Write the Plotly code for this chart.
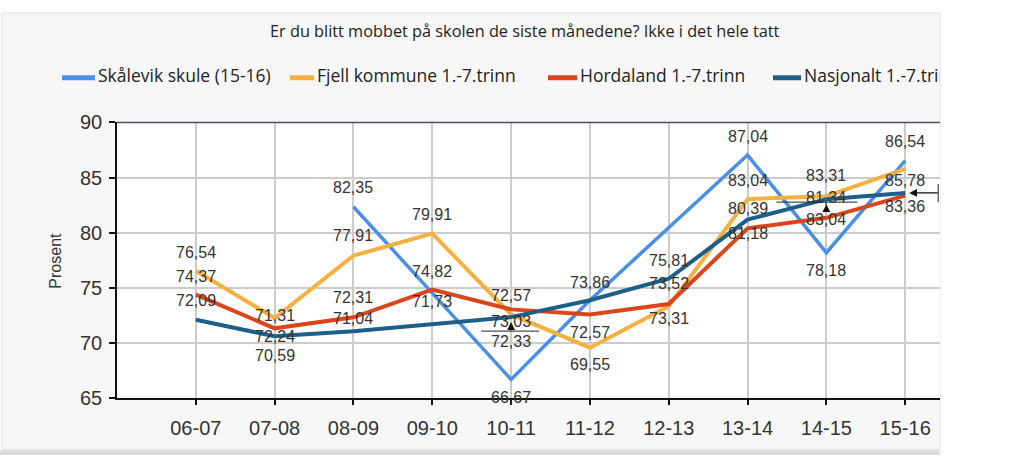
import plotly.graph_objects as go

# ---------------- data ----------------
categories = ["06-07", "07-08", "08-09", "09-10", "10-11", "11-12", "12-13", "13-14", "14-15", "15-16"]
skalevik = [None, None, 82.35, None, 66.67, 73.86, None, 87.04, 78.18, 86.54]
fjell = [76.54, 72.24, 77.91, 79.91, 72.57, 69.55, 73.31, 83.04, 83.31, 85.78]
hordaland = [74.37, 71.31, 72.31, 74.82, 73.03, 72.57, 73.52, 80.39, 81.34, 83.36]
nasjonalt = [72.09, 70.59, 71.04, 71.73, 72.33, 73.86, 75.81, 81.18, 83.04, 83.60]
series_names = ["Skålevik skule (15-16)", "Fjell kommune 1.-7.trinn",
                "Hordaland 1.-7.trinn", "Nasjonalt 1.-7.trinn"]
y_ticks = [65, 70, 75, 80, 85, 90]
title_text = "Er du blitt mobbet på skolen de siste månedene? Ikke i det hele tatt"
y_title = "Prosent"

# ---------------- style ----------------
colors = ["#4a8fe4", "#f5b042", "#da451c", "#1d5f88"]
widths = [3.5, 4, 4, 4]
# label offset in px (+ above / - below), None = label not shown (clipped in original)
label_offsets = [
    [0, 0, 19, 0, -18, 18, 0, 19, -18, 19],
    [18, -18, 20, 19, 19, -17, -12, 19, 21, -12],
    [18, 13, 20, 18, -12, -18, 20, 20, 20, -11],
    [19, -19, 13, 22, -24, None, 18, -14, -20, None],
]
W, H = 1024, 466
PL, PR, PT, PB = 117, 940, 117, 406     # plot area pixels
STEP = 867 / 11                          # category spacing px
legend_swatch = [(62, 95), (290, 314), (548, 577), (773, 801)]

series = [skalevik, fjell, hordaland, nasjonalt]

fig = go.Figure()

for name, vals, col, w in zip(series_names, series, colors, widths):
    fig.add_trace(go.Scatter(
        x=categories, y=vals, mode="lines", name=name,
        line=dict(color=col, width=w), connectgaps=True,
        showlegend=False, hoverinfo="skip"))

annotations = []
for vals, offs in zip(series, label_offsets):
    for c, v, o in zip(categories, vals, offs):
        if v is None or o is None or o == 0:
            continue
        annotations.append(dict(
            x=c, y=v, xref="x", yref="y", yshift=o, showarrow=False,
            text=f"{v:.2f}".replace(".", ","),
            font=dict(family="Liberation Sans, Arial", size=16, color="#333333")))

# callout arrows (as in original smart-label callouts) on Nasjonalt labels
callouts = [  # (category index, yshift, ax, ay)
    (4, -5, 0, 9),
    (8, -5, 0, 7),
    (9, 0, 30, 0),
]
for idx, ys, ax, ay in callouts:
    xs = 4 if ax else 0
    annotations.append(dict(
        x=categories[idx], y=nasjonalt[idx], xref="x", yref="y", yshift=ys, xshift=xs,
        text="", showarrow=True, arrowhead=2, arrowsize=1.3, arrowwidth=1.2,
        arrowcolor="#111111", ax=ax, ay=ay, standoff=0))

shapes = []
# panel background and white plot area
shapes.append(dict(type="rect", xref="paper", yref="paper", layer="below",
                   x0=2 / W, x1=940 / W, y0=(H - 460) / H, y1=(H - 2) / H,
                   fillcolor="#f7f7f7", line=dict(color="#e2e2e2", width=1)))
shapes.append(dict(type="rect", xref="paper", yref="paper", layer="below",
                   x0=PL / W, x1=PR / W, y0=(H - PB) / H, y1=(H - PT) / H,
                   fillcolor="#ffffff", line=dict(width=0)))
# bottom gray bar of the frame
shapes.append(dict(type="rect", xref="paper", yref="paper", layer="below",
                   x0=0, x1=940 / W, y0=0, y1=(H - 461) / H,
                   fillcolor="#dcdcdc", line=dict(width=0)))
# top border of plot area
shapes.append(dict(type="line", xref="paper", yref="paper", layer="above",
                   x0=PL / W, x1=PR / W, y0=(H - PT) / H, y1=(H - PT) / H,
                   line=dict(color="#44506a", width=1.5)))
# callout underlines
shapes.append(dict(type="line", xref="x", yref="y", xsizemode="pixel", ysizemode="pixel",
                   xanchor=4, yanchor=nasjonalt[4], x0=-30, x1=28, y0=-14, y1=-14,
                   line=dict(color="#222222", width=1)))
shapes.append(dict(type="line", xref="x", yref="y", xsizemode="pixel", ysizemode="pixel",
                   xanchor=8, yanchor=nasjonalt[8], x0=-50, x1=31, y0=-3, y1=-3,
                   line=dict(color="#222222", width=1)))
shapes.append(dict(type="line", xref="x", yref="y", xsizemode="pixel", ysizemode="pixel",
                   xanchor=9, yanchor=nasjonalt[9], x0=33, x1=33, y0=-9, y1=9,
                   line=dict(color="#222222", width=1)))

# title and y-axis title
annotations.append(dict(x=525 / W, y=(H - 21) / H, xref="paper", yref="paper",
                        text=title_text, showarrow=False, xanchor="center", yanchor="middle",
                        font=dict(family="Open Sans", size=16.3, color="#222222")))
annotations.append(dict(x=56 / W, y=(H - 262) / H, xref="paper", yref="paper",
                        text=y_title, showarrow=False, textangle=-90,
                        xanchor="center", yanchor="middle",
                        font=dict(family="Liberation Sans, Arial", size=16, color="#333333")))

# legend drawn in a helper subplot so that it is clipped like the original
for name, col, (s0, s1) in zip(series_names, colors, legend_swatch):
    fig.add_trace(go.Scatter(x=[s0, s1], y=[0.5, 0.5], mode="lines", xaxis="x2", yaxis="y2",
                             line=dict(color=col, width=5), showlegend=False, hoverinfo="skip"))
fig.add_trace(go.Scatter(
    x=[s1 + 3 for s0, s1 in legend_swatch], y=[0.5] * 4, mode="text",
    text=series_names, textposition="middle right", xaxis="x2", yaxis="y2",
    textfont=dict(family="Open Sans", size=17.5, color="#222222"),
    cliponaxis=True, showlegend=False, hoverinfo="skip"))

fig.update_layout(
    width=W, height=H,
    margin=dict(l=0, r=0, t=0, b=0),
    paper_bgcolor="#ffffff", plot_bgcolor="rgba(0,0,0,0)",
    annotations=annotations, shapes=shapes,
    xaxis=dict(domain=[PL / W, PR / W], type="category",
               range=[-1, -1 + (PR - PL) / STEP],
               showgrid=True, gridcolor="#cccccc", gridwidth=1.5,
               showline=True, linecolor="#111111", linewidth=1.5,
               ticks="outside", ticklen=5, tickcolor="#111111", tickwidth=1.5,
               ticklabelstandoff=6,
               tickfont=dict(family="Liberation Sans, Arial", size=20, color="#333333"),
               zeroline=False, fixedrange=True),
    yaxis=dict(domain=[(H - PB) / H, (H - PT) / H], range=[65, 90],
               tickvals=y_ticks, ticktext=[str(t) for t in y_ticks],
               showgrid=True, gridcolor="#cccccc", gridwidth=1.5,
               showline=True, linecolor="#111111", linewidth=1.5,
               ticks="outside", ticklen=6, tickcolor="#111111", tickwidth=1.5,
               ticklabelstandoff=3,
               tickfont=dict(family="Liberation Sans, Arial", size=20, color="#333333"),
               zeroline=False, fixedrange=True),
    xaxis2=dict(domain=[0, 940 / W], range=[0, 940], visible=False, fixedrange=True),
    yaxis2=dict(domain=[(H - 85) / H, (H - 55) / H], range=[0, 1], visible=False,
                fixedrange=True),
)

post_js = (
    "document.documentElement.style.margin='0';"
    "document.documentElement.style.overflow='hidden';"
    "document.body.style.margin='0';"
    "document.body.style.overflow='hidden';"
    "var gd=document.getElementById('{plot_id}');"
    "gd.style.position='fixed';gd.style.top='0px';gd.style.left='0px';"
)
fig.write_html("out.html", config={"displayModeBar": False}, post_script=post_js)
